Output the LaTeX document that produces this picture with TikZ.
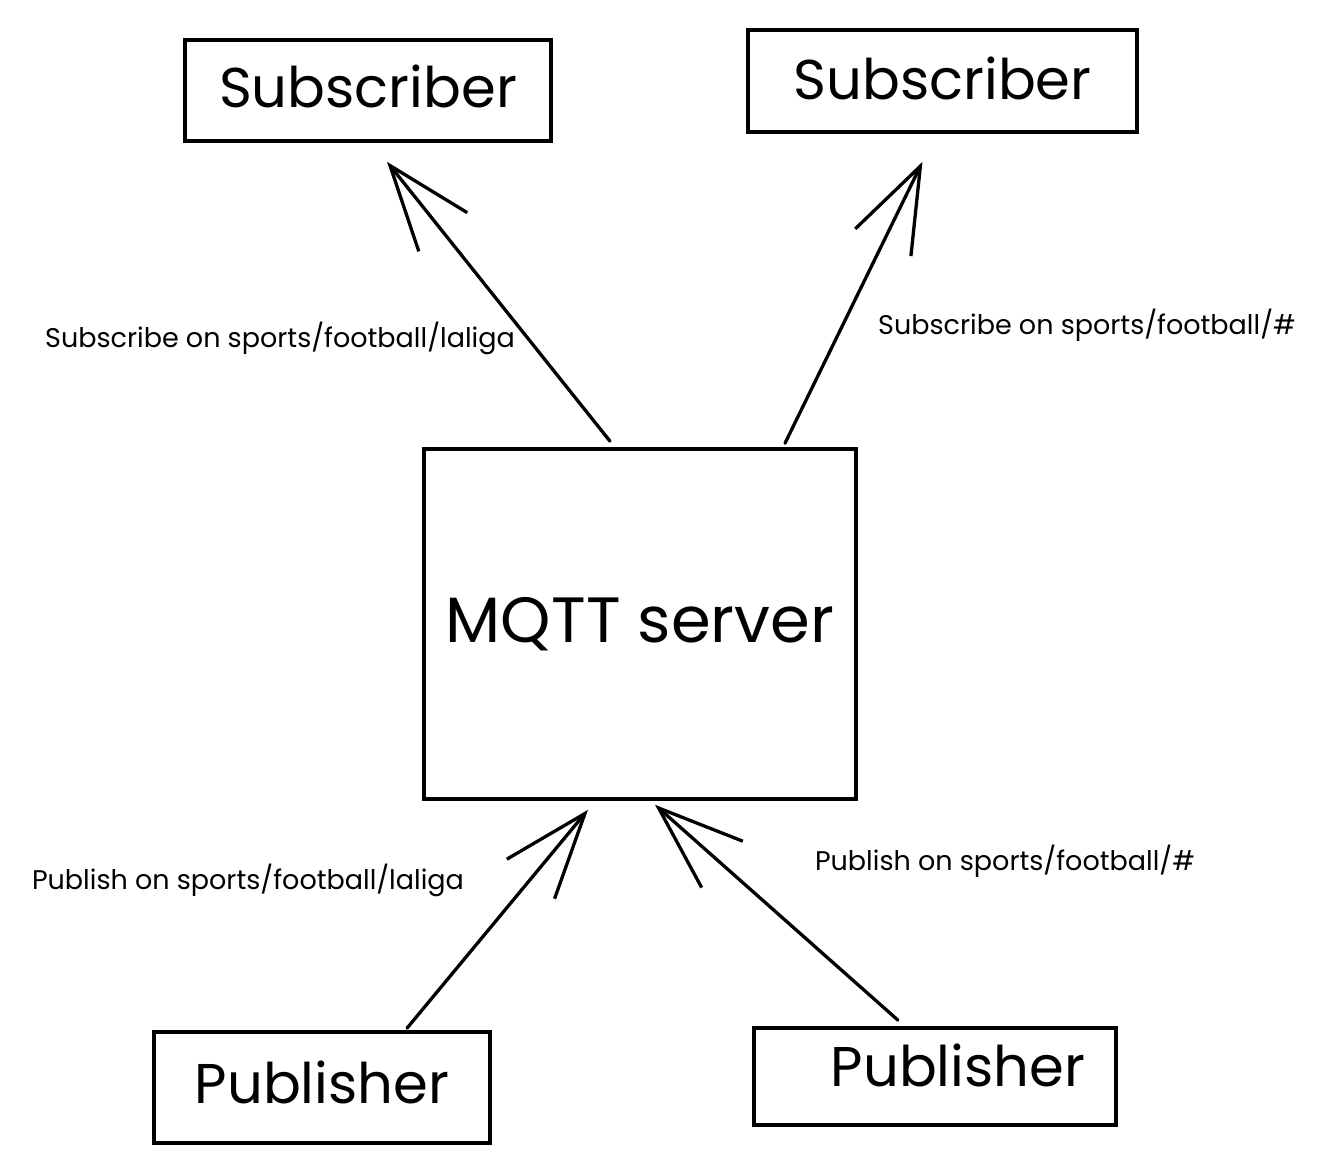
\documentclass[tikz,border=0pt]{standalone}
\usepackage{fontspec}
\setmainfont{Poppins}
\usetikzlibrary{arrows.meta,calc}
\newcommand{\upby}[2]{\raisebox{#1}[\height][\depth]{#2}}
\begin{document}
\begin{tikzpicture}[x=1pt,y=-1pt,
  box/.style={draw, line width=3.6pt, rectangle, inner sep=0pt},
  big/.style={font=\fontsize{56}{64}\selectfont},
  lab/.style={font=\fontsize{27}{31}\selectfont, inner sep=0pt},
  arr/.style={line width=3.3pt, line cap=round,
    -{Straight Barb[length=85pt,width=62pt,line width=3.3pt]}}]
\useasboundingbox[fill=white] (0,0) rectangle (1326,1173);
\node[box, big, minimum width=366pt, minimum height=101pt] (sub1) at (368,90.5) {\upby{4pt}{Subscriber}};
\node[box, big, minimum width=389pt, minimum height=102pt] (sub2) at (942.5,81) {\upby{3pt}{Subscriber}\hspace{29pt}};
\node[box, font=\fontsize{64}{72}\selectfont, minimum width=432pt, minimum height=350pt] (mqtt) at (640,624) {MQTT server};
\node[box, big, minimum width=336pt, minimum height=111pt] (pub1) at (322,1087.5) {\upby{5pt}{Publisher}};
\node[box, big, minimum width=362pt, minimum height=97pt] (pub2) at (935,1076.5) {\hspace{46pt}\upby{11pt}{Publisher}};
\draw[arr] ($(mqtt.north)+(-30,-6)$) -- ($(sub1.south)+(19,19)$);
\draw[arr] ($(mqtt.north)+(145,-4)$) -- ($(sub2.south)+(-20,28)$);
\draw[arr] ($(pub1.north)+(85,-2)$) -- ($(mqtt.south)+(-52,9)$);
\draw[arr] ($(pub2.north)+(-37,-6)$) -- ($(mqtt.south)+(15,4)$);
\node[lab] (l1) at (280,338) {Subscribe on sports/football/laliga};
\node[lab] (l2) at (1087,325) {Subscribe on sports/football/\#};
\node[lab] (l3) at (248,880) {Publish on sports/football/laliga};
\node[lab] (l4) at (1005,861) {Publish on sports/football/\#};
\end{tikzpicture}
\end{document}
